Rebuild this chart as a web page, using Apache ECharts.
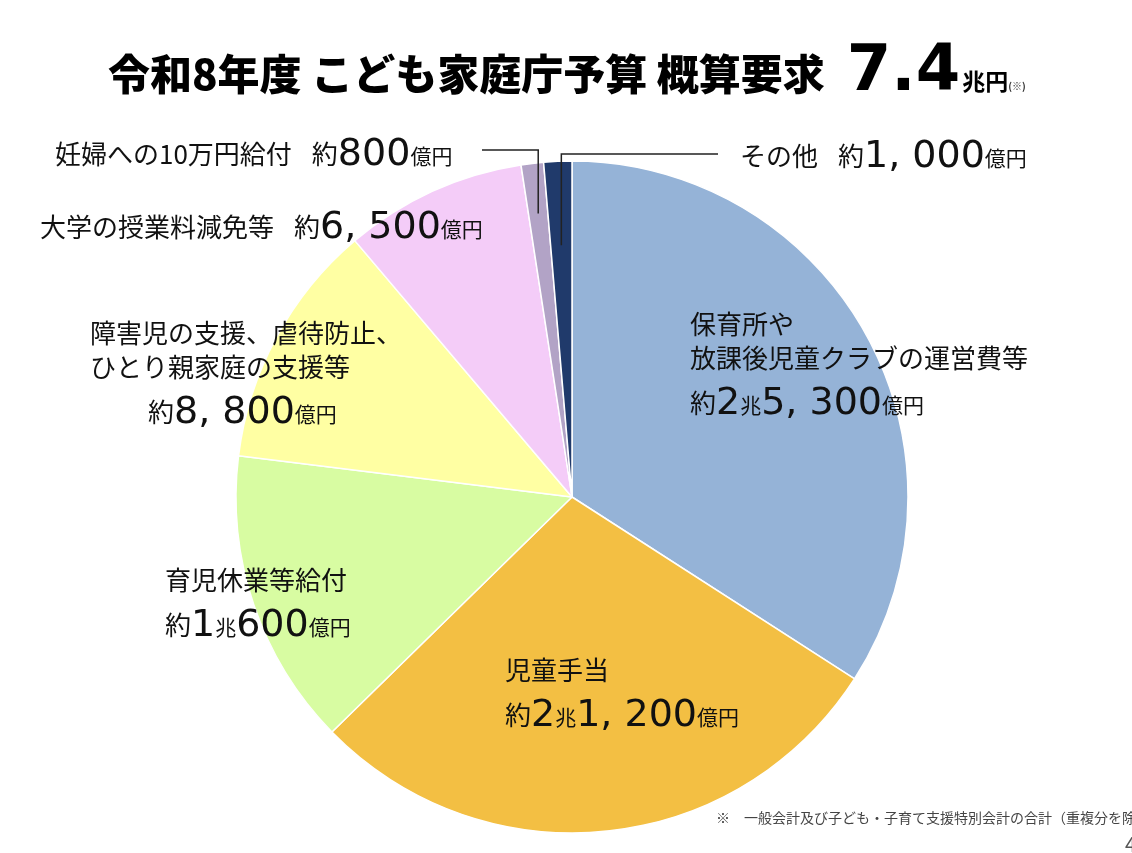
<!DOCTYPE html>
<html lang="ja">
<head>
<meta charset="utf-8">
<title>令和8年度 こども家庭庁予算 概算要求</title>
<script src="https://cdn.jsdelivr.net/npm/echarts@6/dist/echarts.min.js"></script>
<style>
  html, body { margin: 0; padding: 0; background: #fff; }
  #main { width: 1132px; height: 853px; }
</style>
</head>
<body>
<div id="main"></div>
<script>
// 予算の内訳（単位：億円）
var categories = [
    '保育所や\n放課後児童クラブの運営費等',
    '児童手当',
    '育児休業等給付',
    '障害児の支援、虐待防止、\nひとり親家庭の支援等',
    '大学の授業料減免等',
    '妊婦への10万円給付',
    'その他'
];
var values = [25300, 21200, 10600, 8800, 6500, 800, 1000];
var colors = ['#95b3d7', '#f3bf43', '#d8fca2', '#ffffa3', '#f4ccf8', '#b2a3c6', '#203a6b'];
var totalText = '7.4';

// ラベルの置き場所（テキストブロックの左上）
var labelPos = [[690, 303], [505, 649], [165, 559], [90, 312], [40, 195], [55, 122], [740, 124]];
var inlineIdx = [4, 5, 6];

var FONT = '"Noto Sans CJK JP", "Noto Sans", sans-serif';
var NUMFONT = '"DejaVu Sans", sans-serif';

function fmtAmount(v) {
    var cho = Math.floor(v / 10000);
    var oku = v % 10000;
    var s = '{y|約}';
    if (cho) s += '{n|' + cho + '}{u|兆}';
    if (oku) {
        var num = oku >= 1000 ? Math.floor(oku / 1000) + ', ' + String(oku % 1000).padStart(3, '0') : String(oku);
        s += '{n|' + num + '}';
    }
    return s + '{u|億円}';
}

function labelText(i) {
    if (inlineIdx.indexOf(i) >= 0) {
        return '{y|' + categories[i] + '}{gap|}' + fmtAmount(values[i]);
    }
    var lines = categories[i].split('\n').map(function (l) { return '{t|' + l + '}'; });
    var amt = fmtAmount(values[i]);
    if (i === 3) amt = '{pad|}' + amt;
    return lines.join('\n') + '\n' + amt;
}

var myChart = echarts.init(document.getElementById('main'));

var cx = 572, cy = 497, r = 336;

// 小さい扇形への引き出し線
function sliceMid(i, k) {
    var total = values.reduce(function (a, b) { return a + b; }, 0);
    var cum = 0;
    for (var j = 0; j < i; j++) cum += values[j];
    var ang = (cum + values[i] / 2) / total * Math.PI * 2;
    return [cx + k * r * Math.sin(ang), cy - k * r * Math.cos(ang)];
}
var p5 = sliceMid(5, 0.85);
var p6 = sliceMid(6, 0.75);

var option = {
    backgroundColor: '#fff',
    title: {
        left: 103,
        top: 36,
        text: '{a|令和8年度 こども家庭庁予算 概算要求}{b|' + totalText + '}{c|兆円}{d|(※)}',
        textStyle: {
            rich: {
                a: { fontFamily: FONT, fontSize: 42, fontWeight: 900, color: '#000', verticalAlign: 'bottom', padding: [0, 0, 10, 0] },
                b: { fontFamily: NUMFONT, fontSize: 64, fontWeight: 'bold', color: '#000', padding: [0, 2, 0, 22], verticalAlign: 'bottom' },
                c: { fontFamily: FONT, fontSize: 23, fontWeight: 'bold', color: '#000', verticalAlign: 'bottom', padding: [0, 0, 12, 0] },
                d: { fontFamily: FONT, fontSize: 10, color: '#333', verticalAlign: 'bottom', padding: [0, 0, 14, 0] }
            }
        }
    },
    series: [{
        type: 'pie',
        center: [cx, cy],
        radius: [0, r],
        startAngle: 90,
        clockwise: true,
        avoidLabelOverlap: false,
        silent: true,
        animation: false,
        data: values.map(function (v, i) {
            return { name: categories[i], value: v, itemStyle: { color: colors[i] } };
        }),
        itemStyle: { borderColor: '#fff', borderWidth: 1.5 },
        label: {
            show: true,
            position: 'inside',
            formatter: function (p) { return labelText(p.dataIndex); },
            color: '#111',
            rich: {
                t: { fontFamily: FONT, fontSize: 26, color: '#111', lineHeight: 34, verticalAlign: 'bottom' },
                y: { fontFamily: FONT, fontSize: 26, color: '#111', verticalAlign: 'bottom', padding: [0, 0, 7, 0] },
                n: { fontFamily: NUMFONT, fontSize: 38, color: '#111', lineHeight: 52, verticalAlign: 'bottom' },
                u: { fontFamily: FONT, fontSize: 21, color: '#111', verticalAlign: 'bottom', padding: [0, 0, 7, 0] },
                gap: { width: 20 },
                pad: { width: 58 }
            }
        },
        labelLine: { show: false },
        labelLayout: function (params) {
            var p = labelPos[params.dataIndex];
            return { x: p[0], y: p[1], align: 'left', verticalAlign: 'top' };
        }
    }],
    graphic: [
        {
            type: 'polyline',
            shape: { points: [[p5[0], p5[1]], [p5[0], 150], [482, 150]] },
            style: { stroke: '#222', lineWidth: 1.5, fill: null },
            z: 10
        },
        {
            type: 'polyline',
            shape: { points: [[p6[0], p6[1]], [p6[0], 154], [718, 154]] },
            style: { stroke: '#222', lineWidth: 1.5, fill: null },
            z: 10
        },
        {
            type: 'text',
            left: 716,
            top: 811,
            style: {
                text: '※　一般会計及び子ども・子育て支援特別会計の合計（重複分を除く）',
                font: '14px ' + FONT,
                fill: '#444'
            }
        },
        {
            type: 'text',
            left: 1125,
            top: 834,
            style: { text: '4', font: '20px ' + FONT, fill: '#555' }
        }
    ]
};

myChart.setOption(option);
</script>
</body>
</html>
